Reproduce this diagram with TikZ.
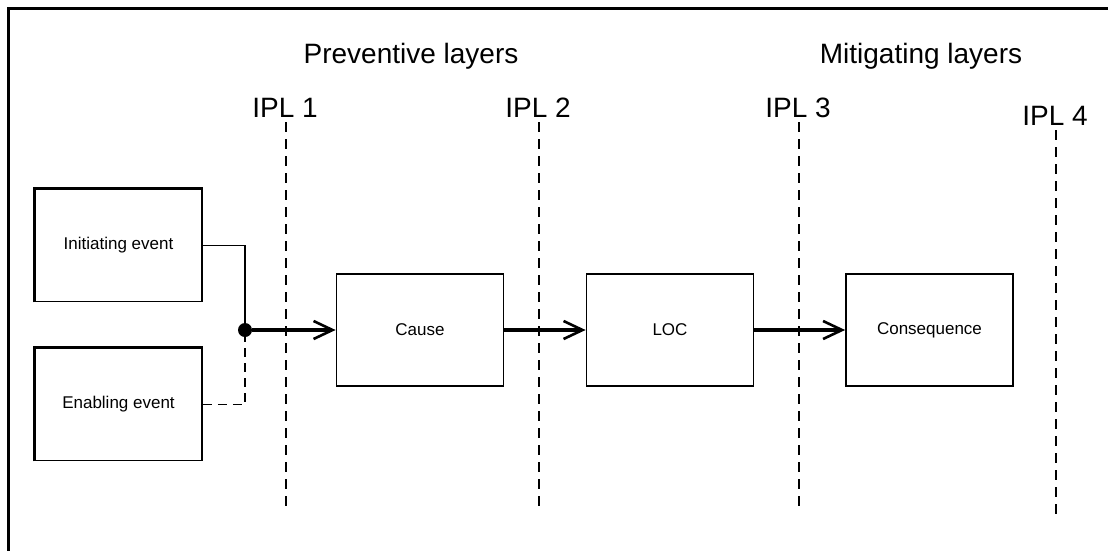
\documentclass[tikz,border=0pt]{standalone}
\usepackage{fontspec}
\setmainfont{Liberation Sans}
\usetikzlibrary{arrows.meta,positioning}

\begin{document}
\begin{tikzpicture}[x=1pt,y=-1pt,
  box/.style = {draw, line width=1.8pt, minimum width=167pt, minimum height=112pt, inner sep=0pt, font=\fontsize{17}{20}\selectfont},
  layer/.style = {line width=1.5pt, dash pattern=on 10pt off 7pt},
  ipl/.style = {anchor=base, inner sep=0pt, font=\fontsize{28}{32}\selectfont},
  heading/.style = {anchor=base, inner sep=0pt, font=\fontsize{28}{32}\selectfont},
  link/.style = {line width=1.6pt},
  flow/.style = {line width=3.2pt, -{Straight Barb[length=19pt,width=18pt,line width=2.6pt]}}]
\useasboundingbox (0,0) rectangle (1108,550);
% frame, open to the right and bottom
\draw[line width=3pt] (8,560) -- (8,8) -- (1120,8);

\node[heading] (prev) at (411,63) {Preventive layers};
\node[heading] (miti) at (921,63) {Mitigating layers};

% protection layers
\foreach \x/\t/\b/\n in {286/122/508/1, 539/122/510/2, 799/122/510/3, 1056/130/517/4} {
  \node[ipl] (ipl\n) at (\x-1,\t-5) {IPL \n};
  \coordinate (top\n) at (\x,\t);
  \coordinate (bot\n) at (\x,\b);
  \draw[layer] (top\n) -- (bot\n);
}

\node[box] (init) at (118.5,245.5) {Initiating event};
\node[box] (enab) at (118.5,404.5) {Enabling event};
\node[box] (cause) at (420,330) {Cause};
\node[box] (loc) at (670,330) {LOC};
\node[box] (cons) at (929.5,330) {Consequence};
\node[circle, fill, inner sep=0pt, minimum size=14pt] (join) at (245,330) {};

% heavier left and top edges of the event boxes
\foreach \e in {init, enab}
  \draw[line width=2.6pt] (\e.south west) -- (\e.north west) -- (\e.north east);

\draw[link] (init.east) -| (join);
\draw[link, dash pattern=on 9pt off 6pt] (enab.east) -| (join);
\draw[flow] (join) -- (cause);
\draw[flow] (cause) -- (loc);
\draw[flow] (loc) -- (cons);
\end{tikzpicture}
\end{document}
